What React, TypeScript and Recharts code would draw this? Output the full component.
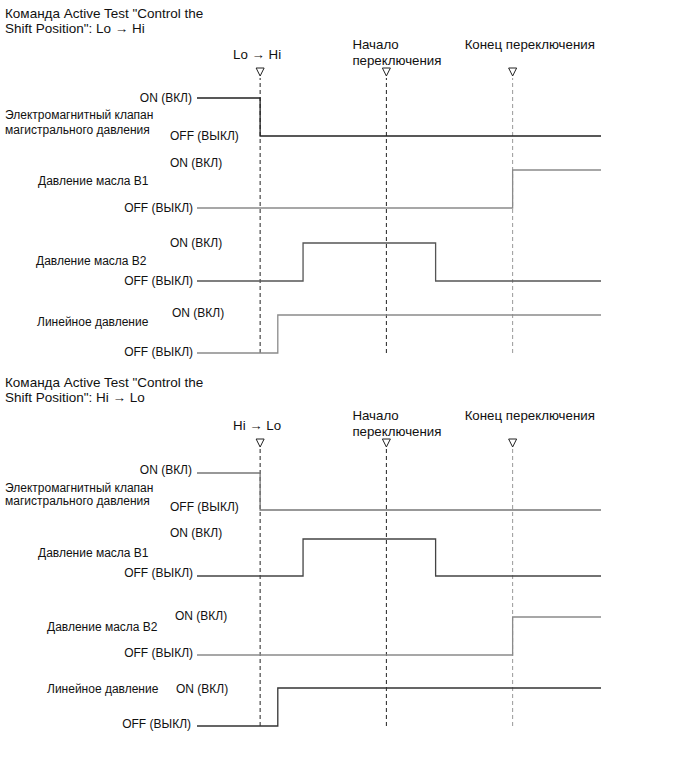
import React from 'react';
import { LineChart, Line, XAxis, YAxis, ReferenceLine } from 'recharts';

// ---------- DATA ----------
// time axis: arbitrary units, the three event markers sit at t = 1, 2, 3
const timeDomain: [number, number] = [0.5, 3.7];
const markerTimes = [1, 2, 3];

const panel1Titles = ['Команда Active Test "Control the', 'Shift Position": Lo → Hi'];
const panel2Titles = ['Команда Active Test "Control the', 'Shift Position": Hi → Lo'];

const panel1MarkerLabels = [['Lo → Hi'], ['Начало', 'переключения'], ['Конец переключения']];
const panel2MarkerLabels = [['Hi → Lo'], ['Начало', 'переключения'], ['Конец переключения']];

const signalNames = [
  ['Электромагнитный клапан', 'магистрального давления'],
  ['Давление масла B1'],
  ['Давление масла B2'],
  ['Линейное давление'],
];
const panel2SignalNames = signalNames;
const stateLabels = ['OFF (ВЫКЛ)', 'ON (ВКЛ)'];

// state 1 = ON, 0 = OFF (step after each time point)
const p1Solenoid = [{ t: 0.5, s: 1 }, { t: 1, s: 0 }, { t: 3.7, s: 0 }];
const p1B1 = [{ t: 0.5, s: 0 }, { t: 3, s: 1 }, { t: 3.7, s: 1 }];
const p1B2 = [{ t: 0.5, s: 0 }, { t: 1.34, s: 1 }, { t: 2.39, s: 0 }, { t: 3.7, s: 0 }];
const p1Line = [{ t: 0.5, s: 0 }, { t: 1.14, s: 1 }, { t: 3.7, s: 1 }];

const p2Solenoid = [{ t: 0.5, s: 1 }, { t: 1, s: 0 }, { t: 3.7, s: 0 }];
const p2B1 = [{ t: 0.5, s: 0 }, { t: 1.34, s: 1 }, { t: 2.39, s: 0 }, { t: 3.7, s: 0 }];
const p2B2 = [{ t: 0.5, s: 0 }, { t: 3, s: 1 }, { t: 3.7, s: 1 }];
const p2Line = [{ t: 0.5, s: 0 }, { t: 1.14, s: 1 }, { t: 3.7, s: 1 }];

// ---------- LAYOUT ----------
const FONT = '"Liberation Sans", Arial, sans-serif';
const CHART_LEFT = 187;
const CHART_W = 424;
const MARGIN_X = 10;

type Pt = { t: number; s: number };

function SignalChart({ data, on, off, color }: { data: Pt[]; on: number; off: number; color: string }) {
  const pad = 3;
  return (
    <div style={{ position: 'absolute', left: CHART_LEFT, top: on - pad }}>
      <LineChart width={CHART_W} height={off - on + pad * 2} data={data} margin={{ top: pad, bottom: pad, left: MARGIN_X, right: MARGIN_X }}>
        <XAxis dataKey="t" type="number" domain={timeDomain} hide />
        <YAxis type="number" domain={[0, 1]} hide />
        <Line type="stepAfter" dataKey="s" stroke={color} strokeWidth={1.3} dot={false} isAnimationActive={false} />
      </LineChart>
    </div>
  );
}

const markerStyle = [
  { anchor: 'middle', dx: -3, dy: [-19] },
  { anchor: 'start', dx: -34, dy: [-29, -13] },
  { anchor: 'start', dx: -48, dy: [-29] },
];
const markerColors = ['#222', '#222', '#999'];

function MarkerOverlay({ labels, top, plotTop, plotBottom }: { labels: string[][]; top: number; plotTop: number; plotBottom: number }) {
  const data = markerTimes.map((t) => ({ t, s: 0 }));
  return (
    <div style={{ position: 'absolute', left: CHART_LEFT, top }}>
      <LineChart width={CHART_W} height={plotBottom - top + 2} data={data} margin={{ top: plotTop - top, bottom: 2, left: MARGIN_X, right: MARGIN_X }}>
        <XAxis dataKey="t" type="number" domain={timeDomain} hide />
        <YAxis type="number" domain={[0, 1]} hide />
        <Line dataKey="s" stroke="none" dot={false} isAnimationActive={false} />
        {markerTimes.map((t, i) => (
          <ReferenceLine
            key={t}
            x={t}
            stroke={markerColors[i]}
            strokeWidth={1}
            strokeDasharray="4 3"
            label={(props: any) => {
              const vb = props.viewBox || {};
              const x = vb.x;
              const y = vb.y;
              const st = markerStyle[i];
              return (
                <g>
                  <polygon points={`${x - 4},${y - 10} ${x + 4},${y - 10} ${x},${y - 2}`} fill="#fff" stroke="#222" strokeWidth={1} />
                  {labels[i].map((ln, j) => (
                    <text key={j} x={x + st.dx} y={y + st.dy[j]} textAnchor={st.anchor as any} fontFamily={FONT} fontSize={13.3} fill="#111">
                      {ln}
                    </text>
                  ))}
                </g>
              );
            }}
          />
        ))}
      </LineChart>
    </div>
  );
}

function Txt({ text, x, y, right, size = 12 }: { text: string; x: number; y: number; right?: boolean; size?: number }) {
  const style: React.CSSProperties = {
    position: 'absolute',
    top: y - 8,
    fontFamily: FONT,
    fontSize: size,
    lineHeight: '16px',
    whiteSpace: 'nowrap',
    color: '#111',
  };
  if (right) style.right = 691 - x;
  else style.left = x;
  return <div style={style}>{text}</div>;
}

export default function App() {
  return (
    <div style={{ position: 'absolute', left: 0, top: 0, width: 691, height: 757, background: '#fff', overflow: 'hidden' }}>
      {/* Panel 1 */}
      <Txt text={panel1Titles[0]} x={5} y={14} size={13.5} />
      <Txt text={panel1Titles[1]} x={5} y={29} size={13.5} />
      <MarkerOverlay labels={panel1MarkerLabels} top={30} plotTop={78} plotBottom={353} />

      <Txt text={stateLabels[1]} x={192} y={98} right />
      <Txt text={signalNames[0][0]} x={5} y={115} />
      <Txt text={signalNames[0][1]} x={5} y={130} />
      <Txt text={stateLabels[0]} x={170} y={136} />
      <SignalChart data={p1Solenoid} on={98} off={136} color="#222" />

      <Txt text={stateLabels[1]} x={170} y={163} />
      <Txt text={signalNames[1][0]} x={38} y={181} />
      <Txt text={stateLabels[0]} x={193} y={208} right />
      <SignalChart data={p1B1} on={170} off={208} color="#8a8a8a" />

      <Txt text={stateLabels[1]} x={170} y={243} />
      <Txt text={signalNames[2][0]} x={36} y={261} />
      <Txt text={stateLabels[0]} x={193} y={281} right />
      <SignalChart data={p1B2} on={243} off={281} color="#555" />

      <Txt text={stateLabels[1]} x={172} y={313} />
      <Txt text={signalNames[3][0]} x={37} y={322} />
      <Txt text={stateLabels[0]} x={193} y={352} right />
      <SignalChart data={p1Line} on={315} off={353} color="#8a8a8a" />

      {/* Panel 2 */}
      <Txt text={panel2Titles[0]} x={5} y={383} size={13.5} />
      <Txt text={panel2Titles[1]} x={5} y={398} size={13.5} />
      <MarkerOverlay labels={panel2MarkerLabels} top={400} plotTop={449} plotBottom={726} />

      <Txt text={stateLabels[1]} x={192} y={470} right />
      <Txt text={panel2SignalNames[0][0]} x={5} y={488} />
      <Txt text={panel2SignalNames[0][1]} x={5} y={501} />
      <Txt text={stateLabels[0]} x={170} y={507} />
      <SignalChart data={p2Solenoid} on={473} off={510} color="#777" />

      <Txt text={stateLabels[1]} x={170} y={533} />
      <Txt text={panel2SignalNames[1][0]} x={38} y={553} />
      <Txt text={stateLabels[0]} x={193} y={573} right />
      <SignalChart data={p2B1} on={539} off={576} color="#444" />

      <Txt text={stateLabels[1]} x={175} y={616} />
      <Txt text={panel2SignalNames[2][0]} x={47} y={627} />
      <Txt text={stateLabels[0]} x={193} y={653} right />
      <SignalChart data={p2B2} on={617} off={655} color="#8a8a8a" />

      <Txt text={panel2SignalNames[3][0]} x={47} y={689} />
      <Txt text={stateLabels[1]} x={176} y={689} />
      <Txt text={stateLabels[0]} x={191} y={724} right />
      <SignalChart data={p2Line} on={688} off={726} color="#333" />
    </div>
  );
}
